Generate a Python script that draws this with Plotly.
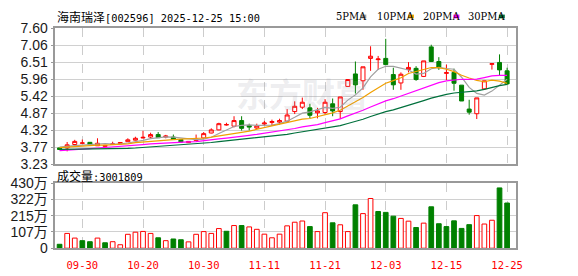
import plotly.graph_objects as go
import pandas as pd

# ---------------- data ----------------
dates = ["09-25", "09-26", "09-29", "09-30", "10-09", "10-10", "10-13", "10-14", "10-15", "10-16",
         "10-17", "10-20", "10-21", "10-22", "10-23", "10-24", "10-27", "10-28", "10-29", "10-30",
         "10-31", "11-03", "11-04", "11-05", "11-06", "11-07", "11-10", "11-11", "11-12", "11-13",
         "11-14", "11-17", "11-18", "11-19", "11-20", "11-21", "11-24", "11-25", "11-26", "11-27",
         "11-28", "12-01", "12-02", "12-03", "12-04", "12-05", "12-08", "12-09", "12-10", "12-11",
         "12-12", "12-15", "12-16", "12-17", "12-18", "12-19", "12-22", "12-23", "12-24", "12-25"]

open_ = [3.75, 3.75, 3.86, 3.90, 3.93, 3.82, 3.80, 3.86, 3.89, 3.95,
         4.00, 4.07, 4.10, 4.18, 4.10, 4.10, 4.02, 3.92, 3.99, 4.07,
         4.23, 4.33, 4.49, 4.45, 4.63, 4.47, 4.39, 4.52, 4.57, 4.58,
         4.61, 4.92, 5.06, 5.04, 4.88, 4.89, 5.17, 4.92, 5.73, 6.13,
         5.91, 6.63, 6.59, 6.63, 6.11, 5.84, 6.27, 6.31, 6.05, 7.00,
         6.53, 6.15, 6.18, 5.77, 5.00, 4.85, 5.65, 6.44, 6.50, 6.23]
high = [3.76, 3.94, 4.01, 4.02, 3.94, 4.06, 3.85, 3.95, 3.94, 4.06,
        4.11, 4.30, 4.24, 4.26, 4.17, 4.18, 4.03, 3.97, 4.18, 4.26,
        4.38, 4.56, 4.56, 4.77, 4.77, 4.53, 4.53, 4.62, 4.66, 4.69,
        5.00, 5.25, 5.37, 5.17, 5.04, 5.32, 5.34, 5.39, 5.96, 6.53,
        6.36, 7.02, 6.71, 7.26, 6.33, 6.18, 6.51, 6.38, 6.55, 7.07,
        6.67, 6.43, 6.30, 5.77, 5.30, 5.36, 5.91, 6.46, 6.76, 6.33]
low = [3.68, 3.64, 3.82, 3.90, 3.82, 3.82, 3.79, 3.85, 3.88, 3.94,
       3.99, 4.06, 4.04, 4.07, 4.06, 4.01, 3.92, 3.91, 3.97, 4.06,
       4.22, 4.32, 4.47, 4.41, 4.31, 4.31, 4.36, 4.46, 4.46, 4.50,
       4.60, 4.84, 5.00, 4.71, 4.70, 4.82, 4.77, 4.68, 5.72, 5.50,
       5.62, 6.23, 6.26, 6.43, 5.62, 5.62, 6.18, 5.91, 6.03, 6.53,
       6.26, 5.93, 5.59, 5.26, 4.82, 4.68, 5.64, 6.27, 6.08, 5.78]
close = [3.70, 3.85, 3.96, 3.91, 3.86, 3.90, 3.83, 3.88, 3.92, 4.01,
         4.06, 4.09, 4.18, 4.08, 4.13, 4.02, 3.94, 3.96, 4.03, 4.21,
         4.33, 4.53, 4.50, 4.63, 4.38, 4.42, 4.46, 4.55, 4.60, 4.63,
         4.81, 5.09, 5.22, 4.80, 4.94, 5.22, 4.94, 5.39, 5.95, 5.78,
         6.36, 6.70, 6.61, 6.43, 5.78, 6.12, 6.34, 5.95, 6.55, 6.53,
         6.33, 6.17, 5.83, 5.26, 4.90, 5.36, 5.91, 6.46, 6.26, 5.81]

# closes before the first visible day (read back from where the MA lines start)
prior_close = [3.80, 3.81, 3.79, 3.78, 3.80, 3.79, 3.77, 3.76, 3.74, 3.72,
               3.62, 3.58, 3.55, 3.54, 3.52, 3.53, 3.55, 3.58, 3.60, 3.63,
               3.68, 3.72, 3.74, 3.76, 3.78, 3.79, 3.80, 3.82, 3.78]

# volume in 万 (10k shares); direction as coloured on the chart
volume = [26, 98, 67, 50, 43, 67, 36, 43, 23, 92,
          106, 111, 98, 69, 50, 61, 56, 42, 92, 110,
          98, 130, 112, 150, 150, 141, 125, 93, 69, 93,
          148, 172, 180, 143, 110, 235, 168, 155, 110, 287,
          229, 329, 243, 237, 212, 197, 179, 137, 166, 274,
          162, 143, 181, 131, 156, 216, 160, 185, 399, 299]
vol_dir = ["g", "r", "r", "g", "g", "r", "g", "r", "r", "r",
           "r", "r", "r", "g", "r", "g", "g", "r", "r", "r",
           "r", "r", "g", "r", "g", "r", "r", "r", "r", "r",
           "r", "r", "r", "g", "r", "r", "g", "r", "r", "g",
           "r", "r", "g", "g", "g", "r", "r", "g", "r", "g",
           "g", "g", "g", "g", "g", "r", "r", "r", "g", "g"]

tick_dates = ["09-30", "10-20", "10-30", "11-11", "11-21", "12-03", "12-15", "12-25"]
price_ticks = ["3.23", "3.77", "4.32", "4.87", "5.42", "5.96", "6.51", "7.06", "7.60"]
vol_ticks = ["0", "107万", "215万", "322万", "430万"]
vol_tick_vals = [0, 107.5, 215, 322.5, 430]

ma_periods = [5, 10, 20, 30]
ma_names = ["5PMA", "10PMA", "20PMA", "30PMA"]
ma_colors = ["#a0a0a0", "#f0a000", "#ff00ff", "#00703c"]

title_name = "海南瑞泽"
title_rest = "[002596] 2025-12-25 15:00"
vol_title = "成交量:3001809"
watermark = "东方财富"

# ---------------- figure ----------------
W, H = 578, 276
RED, GREEN = "#ff0000", "#008000"

def px_x(p):
    return p / W

def px_y(p):
    return 1 - p / H

p_lo, p_hi = float(price_ticks[0]), float(price_ticks[-1])
price_tick_vals = [p_lo + i * (p_hi - p_lo) / (len(price_ticks) - 1) for i in range(len(price_ticks))]

all_close = pd.Series(prior_close + close)
mas = {n: all_close.rolling(n).mean().iloc[len(prior_close):].tolist() for n in ma_periods}

fig = go.Figure()

fig.add_trace(go.Candlestick(
    x=dates, open=open_, high=high, low=low, close=close,
    increasing=dict(line=dict(color=RED, width=1), fillcolor="#ffffff"),
    decreasing=dict(line=dict(color=GREEN, width=1), fillcolor=GREEN),
    whiskerwidth=0, xaxis="x", yaxis="y", showlegend=False, hoverinfo="skip"))

for n, c in zip(ma_periods, ma_colors):
    fig.add_trace(go.Scatter(x=dates, y=mas[n], mode="lines", line=dict(color=c, width=1.2),
                             xaxis="x", yaxis="y", showlegend=False, hoverinfo="skip"))

bar_fill = ["#ffffff" if d == "r" else GREEN for d in vol_dir]
bar_line = [RED if d == "r" else GREEN for d in vol_dir]
fig.add_trace(go.Bar(x=dates, y=volume, width=0.62,
                     marker=dict(color=bar_fill, line=dict(color=bar_line, width=1)),
                     xaxis="x2", yaxis="y2", showlegend=False, hoverinfo="skip"))

x_dom = [px_x(56), px_x(522)]
x_range = [-0.56, len(dates) - 1 + 1.13]
frame = dict(showline=True, mirror=True, linecolor="#999999", linewidth=1.5, zeroline=False)
ytickfont = dict(family="Liberation Sans, Noto Sans CJK SC", size=14, color="#1a1a1a")

fig.update_layout(
    width=W, height=H, margin=dict(l=0, r=0, t=0, b=0),
    paper_bgcolor="#ffffff", plot_bgcolor="#ffffff",
    boxgap=0.25,
    xaxis=dict(domain=x_dom, type="category", range=x_range, anchor="y",
               tickvals=tick_dates, showticklabels=False, ticks="",
               showgrid=True, gridcolor="#cccccc", griddash="dash", gridwidth=1,
               rangeslider=dict(visible=False), **frame),
    yaxis=dict(domain=[px_y(165.7), px_y(21.5)], range=[p_lo, p_hi], anchor="x",
               tickvals=price_tick_vals, ticktext=price_ticks, tickfont=ytickfont,
               ticks="outside", ticklen=3, tickcolor="#999999",
               showgrid=True, gridcolor="#d0d0d0", gridwidth=1, **frame),
    xaxis2=dict(domain=x_dom, type="category", range=x_range, anchor="y2",
                tickvals=tick_dates, ticktext=tick_dates, ticks="", ticklabelstandoff=6,
                tickfont=dict(family="DejaVu Sans Mono", size=10.5, color=RED),
                showgrid=True, gridcolor="#cccccc", griddash="dash", gridwidth=1, **frame),
    yaxis2=dict(domain=[px_y(255), px_y(186)], range=[0, vol_tick_vals[-1]], anchor="x2",
                tickvals=vol_tick_vals, ticktext=vol_ticks, tickfont=ytickfont,
                ticks="outside", ticklen=3, tickcolor="#999999",
                showgrid=True, gridcolor="#d0d0d0", gridwidth=1, **frame),
)

ann = []
ann.append(dict(text=watermark, x=px_x(306), y=px_y(90), xref="paper", yref="paper",
                xanchor="center", yanchor="middle",
                showarrow=False, font=dict(family="Noto Sans CJK SC", size=33, color="rgba(150,150,165,0.17)", weight="bold")))
ann.append(dict(text=title_name + "<span style='font-family:DejaVu Sans Mono;font-size:10.3px'>" + title_rest + "</span>",
                x=px_x(56), y=px_y(9), xref="paper", yref="paper", xanchor="left", yanchor="middle",
                showarrow=False, font=dict(family="Noto Sans CJK SC", size=12, color="#000000")))
ann.append(dict(text=vol_title[:3] + "<span style='font-family:DejaVu Sans Mono;font-size:10.3px'>" + vol_title[3:] + "</span>",
                x=px_x(56), y=px_y(177.5), xref="paper", yref="paper", xanchor="left", yanchor="middle",
                showarrow=False, font=dict(family="Noto Sans CJK SC", size=12, color="#000000")))

legend_left = [338, 380, 426, 472]
shapes = []
for name, c, lx in zip(ma_names, ma_colors, legend_left):
    ann.append(dict(text=name, x=px_x(lx), y=px_y(9.5), xref="paper", yref="paper",
                    xanchor="left", yanchor="middle", showarrow=False,
                    font=dict(family="DejaVu Serif Condensed, Liberation Serif", size=11, color="#000000")))
    sx = lx + 6.2 * len(name) + 2
    shapes.append(dict(type="rect", xref="paper", yref="paper", x0=px_x(sx), x1=px_x(sx + 6),
                       y0=px_y(11), y1=px_y(7), fillcolor=c, line=dict(width=0)))

fig.update_layout(annotations=ann, shapes=shapes)
fig.write_html("out.html")
